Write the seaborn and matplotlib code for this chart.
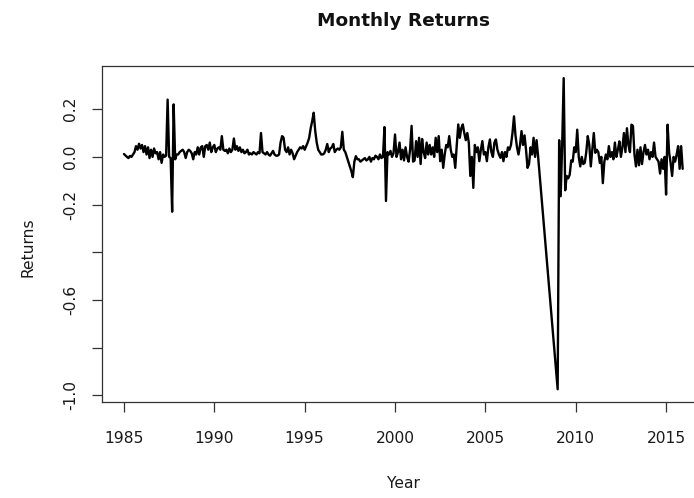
import numpy as np
import pandas as pd
import matplotlib
matplotlib.use("Agg")
import matplotlib.pyplot as plt
import seaborn as sns

# ---------------- data (monthly returns) ----------------
start_year = 1985
# Jan 1985 .. Dec 2007 (month index 0..275)
returns_1985_2007 = [
    0.012, 0.006, 0.0, -0.005, 0.004, 0.0, 0.01, 0.02, 0.045, 0.03, 0.055, 0.035,          # 1985
    0.05, 0.02, 0.045, 0.01, 0.04, -0.005, 0.03, 0.0, 0.035, 0.015, 0.02, -0.01,           # 1986
    0.02, -0.025, 0.01, 0.0, 0.005, 0.24, 0.0, -0.005, -0.23, 0.22, -0.01, 0.01,           # 1987
    0.01, 0.02, 0.025, 0.03, 0.02, -0.005, 0.02, 0.03, 0.025, 0.015, -0.01, 0.02,          # 1988
    0.01, 0.04, 0.01, 0.04, 0.045, 0.0, 0.045, 0.05, 0.03, 0.06, 0.02, 0.04,               # 1989
    0.05, 0.02, 0.035, 0.04, 0.03, 0.087, 0.03, 0.025, 0.03, 0.015, 0.035, 0.02,           # 1990
    0.03, 0.077, 0.03, 0.045, 0.025, 0.04, 0.02, 0.03, 0.015, 0.02, 0.03, 0.01,            # 1991
    0.015, 0.01, 0.02, 0.015, 0.01, 0.02, 0.015, 0.1, 0.02, 0.015, 0.01, 0.02,             # 1992
    0.01, 0.005, 0.015, 0.025, 0.01, 0.005, 0.005, 0.01, 0.06, 0.087, 0.08, 0.03,          # 1993
    0.02, 0.04, 0.01, 0.03, 0.015, -0.01, 0.005, 0.02, 0.03, 0.04, 0.035, 0.045,          # 1994
    0.03, 0.045, 0.06, 0.08, 0.12, 0.15, 0.185, 0.11, 0.06, 0.03, 0.02, 0.01,              # 1995
    0.01, 0.015, 0.03, 0.054, 0.02, 0.035, 0.04, 0.054, 0.02, 0.03, 0.035, 0.03,          # 1996
    0.04, 0.105, 0.03, 0.02, 0.0, -0.02, -0.04, -0.06, -0.085, -0.02, 0.003, -0.01,       # 1997
    -0.01, -0.02, -0.015, -0.01, -0.005, -0.015, -0.01, 0.0, -0.02, -0.005, -0.01, 0.005,  # 1998
    0.0, -0.01, 0.01, -0.005, 0.0, 0.125, -0.185, 0.02, 0.01, 0.025, 0.0, 0.015,           # 1999
    0.094, 0.0, 0.02, 0.06, -0.01, 0.03, -0.015, 0.04, 0.0, -0.02, 0.03, 0.13,             # 2000
    -0.02, -0.015, 0.066, 0.0, 0.08, -0.03, 0.075, 0.02, -0.005, 0.06, 0.01, 0.05,         # 2001
    0.01, 0.04, 0.0, 0.08, 0.02, 0.087, -0.018, 0.03, -0.046, 0.01, 0.05, 0.04,            # 2002
    0.087, 0.03, 0.0, 0.01, -0.046, 0.05, 0.136, 0.08, 0.12, 0.136, 0.1, 0.07,             # 2003
    0.1, 0.06, -0.08, 0.0, -0.13, 0.05, 0.02, 0.04, -0.018, 0.03, 0.066, 0.01,             # 2004
    0.02, -0.018, 0.04, 0.073, 0.02, 0.0, 0.06, 0.073, 0.03, 0.01, -0.004, 0.02,           # 2005
    -0.018, 0.02, 0.0, 0.04, 0.03, 0.05, 0.1, 0.17, 0.09, 0.04, 0.01, 0.05,                # 2006
    0.108, 0.05, 0.09, 0.03, -0.046, -0.03, 0.04, 0.01, 0.08, 0.0, 0.07, 0.003,            # 2007
]
# Jan 2009 .. Dec 2015 (month index 288..371); 2008 is missing in the series
first_month_2009 = 288
returns_2009_2015 = [
    -0.974, 0.07, -0.165, 0.05, 0.33, -0.14, -0.08, -0.09, -0.075, -0.015, -0.02, 0.04,   # 2009
    0.02, 0.114, 0.0, -0.04, 0.0, -0.03, -0.025, 0.02, 0.087, 0.05, -0.04, 0.03,          # 2010
    0.1, 0.017, 0.03, 0.02, -0.025, 0.0, -0.11, -0.02, 0.01, -0.01, 0.045, 0.0,           # 2011
    0.02, -0.01, 0.06, 0.0, 0.03, 0.065, 0.0, 0.04, 0.1, 0.02, 0.12, 0.05,                # 2012
    0.02, 0.135, 0.13, 0.01, -0.04, 0.03, -0.035, 0.04, -0.03, 0.02, 0.05, 0.01,          # 2013
    0.03, -0.01, 0.02, 0.0, 0.06, 0.0, -0.01, -0.02, -0.07, -0.01, -0.05, 0.0,            # 2014
    -0.158, 0.135, 0.02, -0.025, -0.08, 0.0, -0.02, 0.01, 0.045, -0.05, 0.045, -0.05,     # 2015
]
y_ticks = [0.2, 0.0, -0.2, -0.4, -0.6, -0.8, -1.0]
y_tick_labels = ["0.2", "0.0", "-0.2", "", "-0.6", "", "-1.0"]
x_ticks = [1985, 1990, 1995, 2000, 2005, 2010, 2015]

month_idx = np.concatenate([
    np.arange(len(returns_1985_2007)),
    first_month_2009 + np.arange(len(returns_2009_2015)),
])
df = pd.DataFrame({
    "Year": start_year + month_idx / 12.0,
    "Returns": returns_1985_2007 + returns_2009_2015,
})

# ---------------- figure ----------------
sns.set_style("ticks")
plt.rcParams["font.family"] = ["DejaVu Sans"]

W, H = 694, 498
fig = plt.figure(figsize=(W / 100, H / 100), dpi=100)
fig.patch.set_facecolor("white")
ax_left, ax_right, ax_top, ax_bottom = 101.6, 705.0, 65.7, 401.7
ax = fig.add_axes([ax_left / W, 1 - ax_bottom / H, (ax_right - ax_left) / W, (ax_bottom - ax_top) / H])

sns.lineplot(data=df, x="Year", y="Returns", ax=ax, color="black",
             linewidth=1.7, estimator=None, sort=False)

# R-style 4% padding of the data range
xmin, xmax = df["Year"].min(), df["Year"].max()
ymin, ymax = df["Returns"].min(), df["Returns"].max()
ax.set_xlim(xmin - 0.04 * (xmax - xmin), xmax + 0.04 * (xmax - xmin))
ax.set_ylim(ymin - 0.04 * (ymax - ymin), ymax + 0.04 * (ymax - ymin))

for s in ax.spines.values():
    s.set_visible(True)
    s.set_color("#333333")
    s.set_linewidth(0.9)

fs = 11.2
ax.set_xticks(x_ticks)
ax.set_xticklabels([str(t) for t in x_ticks])
ax.set_yticks(y_ticks)
ax.set_yticklabels(y_tick_labels)
ax.tick_params(axis="both", direction="out", length=7.4, width=0.9,
               color="#333333", labelsize=fs, labelcolor="#1a1a1a")
ax.tick_params(axis="x", pad=14)
ax.tick_params(axis="y", pad=9.3, labelrotation=90)
for lbl in ax.get_yticklabels():
    lbl.set_va("center")

ax.set_xlabel("Year", fontsize=fs, color="#1a1a1a")
ax.set_ylabel("Returns", fontsize=fs, color="#1a1a1a")
ax.xaxis.set_label_coords(0.5 * (ax_right + ax_left) / (ax_right - ax_left) - ax_left / (ax_right - ax_left), -0.2226)
ax.yaxis.set_label_coords((35.4 - ax_left) / (ax_right - ax_left), 0.4604)

fig.text((ax_left + ax_right) / 2 / W, 1 - 25.5 / H, "Monthly Returns",
         ha="center", va="baseline", fontsize=13.3, fontweight="bold", color="#111111")

fig.savefig("out.png", dpi=100)
